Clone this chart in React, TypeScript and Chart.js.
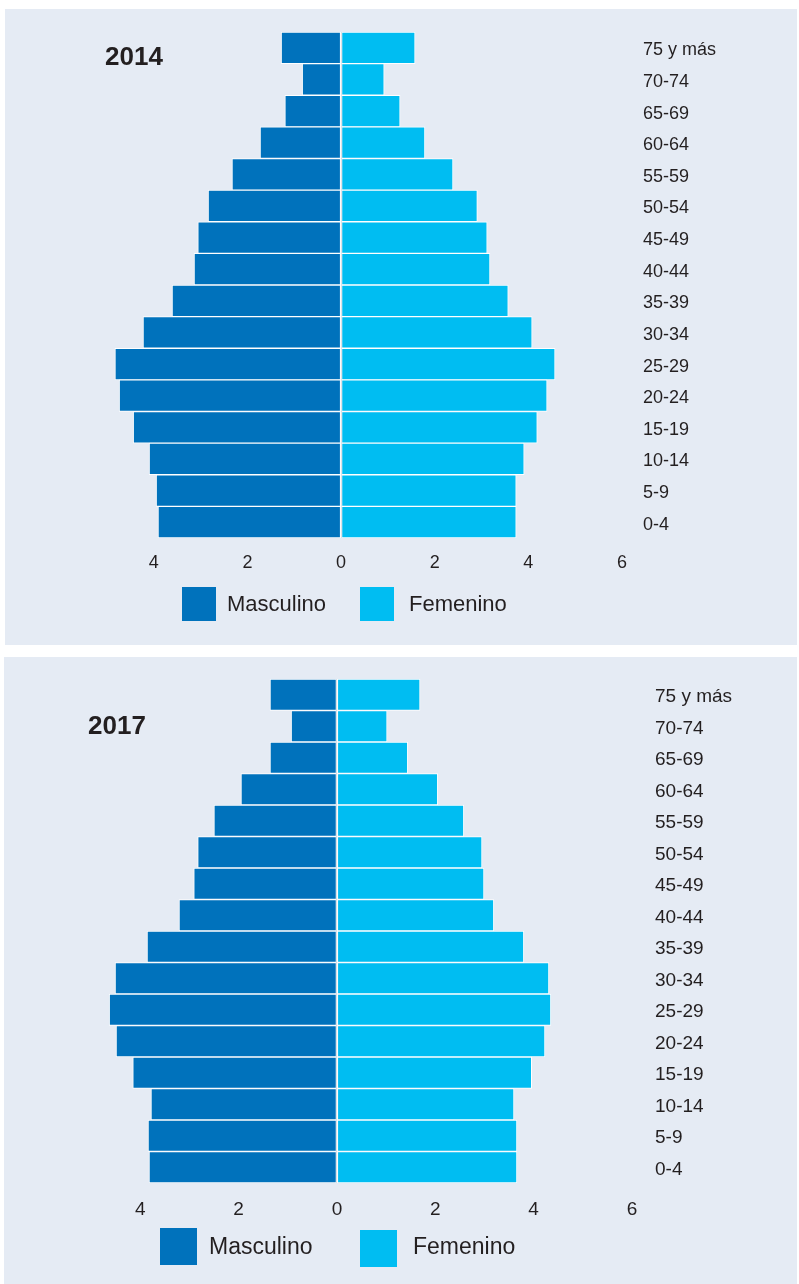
import React, { useEffect, useRef } from "react";
import { Chart, registerables } from "chart.js";

Chart.register(...registerables);

// ---------- data ----------
const ageGroups = [
  "75 y más", "70-74", "65-69", "60-64", "55-59", "50-54", "45-49", "40-44",
  "35-39", "30-34", "25-29", "20-24", "15-19", "10-14", "5-9", "0-4",
];
const xTickValues = [-4, -2, 0, 2, 4, 6];
const seriesLabels = ["Masculino", "Femenino"];
const panelTitles = ["2014", "2017"];

const male2014 = [1.28, 0.83, 1.2, 1.73, 2.33, 2.84, 3.06, 3.14, 3.61, 4.23, 4.83, 4.74, 4.44, 4.1, 3.95, 3.91];
const female2014 = [1.58, 0.92, 1.26, 1.79, 2.39, 2.91, 3.12, 3.18, 3.57, 4.08, 4.57, 4.4, 4.19, 3.91, 3.74, 3.74];
const male2017 = [1.36, 0.93, 1.36, 1.95, 2.5, 2.83, 2.91, 3.21, 3.86, 4.51, 4.63, 4.49, 4.15, 3.78, 3.84, 3.82];
const female2017 = [1.69, 1.02, 1.44, 2.05, 2.58, 2.95, 2.99, 3.19, 3.8, 4.31, 4.35, 4.23, 3.96, 3.6, 3.66, 3.66];

// ---------- style ----------
const MALE_COLOR = "#0072bc";
const FEMALE_COLOR = "#00bdf2";
const PANEL_BG = "#e5ebf4";
const TEXT_COLOR = "#231f20";
const FONT = "'Liberation Sans', Arial, Helvetica, sans-serif";

type LegendBox = { x: number; y: number; size: number; textX: number };
type PanelSpec = {
  left: number; top: number; width: number; height: number;
  chartLeft: number; chartTop: number; chartBottom: number; yAxisWidth: number;
  xAxisHeight: number; tickFont: number; tickPad: number; catFont: number; catPad: number; catOffset: number;
  titleX: number; titleY: number; titleFont: number;
  legendFont: number; legendTextY: number; legendBoxes: LegendBox[];
};

const specs: PanelSpec[] = [
  {
    left: 5, top: 9, width: 792, height: 636,
    chartLeft: 102, chartTop: 23, chartBottom: 529, yAxisWidth: 175,
    xAxisHeight: 40, tickFont: 18, tickPad: 14, catFont: 18, catPad: 21, catOffset: 2.5,
    titleX: 100, titleY: 48.5, titleFont: 26,
    legendFont: 22, legendTextY: 596,
    legendBoxes: [
      { x: 177, y: 578, size: 34, textX: 222 },
      { x: 355, y: 578, size: 34, textX: 404 },
    ],
  },
  {
    left: 4, top: 657, width: 793, height: 627,
    chartLeft: 87, chartTop: 22, chartBottom: 526, yAxisWidth: 165,
    xAxisHeight: 40, tickFont: 19, tickPad: 15, catFont: 19, catPad: 23, catOffset: 2.5,
    titleX: 84, titleY: 69.5, titleFont: 26,
    legendFont: 23, legendTextY: 591,
    legendBoxes: [
      { x: 156, y: 571, size: 37, textX: 205 },
      { x: 356, y: 573, size: 37, textX: 409 },
    ],
  },
];

function Pyramid({ title, male, female, spec }: { title: string; male: number[]; female: number[]; spec: PanelSpec }) {
  const ref = useRef<HTMLCanvasElement | null>(null);

  useEffect(() => {
    const canvas = ref.current;
    if (!canvas) return;

    const overlay = {
      id: "overlay",
      afterDraw(chart: any) {
        const ctx = chart.ctx as CanvasRenderingContext2D;
        ctx.save();
        // title
        ctx.fillStyle = TEXT_COLOR;
        ctx.font = `bold ${spec.titleFont}px ${FONT}`;
        ctx.textAlign = "left";
        ctx.textBaseline = "middle";
        ctx.fillText(title, spec.titleX, spec.titleY);
        // legend
        ctx.font = `${spec.legendFont}px ${FONT}`;
        chart.data.datasets.forEach((ds: any, i: number) => {
          const b = spec.legendBoxes[i];
          if (!b) return;
          ctx.fillStyle = ds.backgroundColor;
          ctx.fillRect(b.x, b.y, b.size, b.size);
          ctx.fillStyle = TEXT_COLOR;
          ctx.fillText(ds.label, b.textX, spec.legendTextY);
        });
        ctx.restore();
      },
    };

    const barStyle = {
      borderColor: "#ffffff",
      borderWidth: 1,
      borderSkipped: false,
      barPercentage: 1,
      categoryPercentage: 1,
    };

    const chart = new Chart(canvas, {
      type: "bar",
      data: {
        labels: ageGroups,
        datasets: [
          { label: seriesLabels[0], data: male.map((v) => -v), backgroundColor: MALE_COLOR, ...barStyle } as any,
          { label: seriesLabels[1], data: female, backgroundColor: FEMALE_COLOR, ...barStyle } as any,
        ],
      },
      options: {
        indexAxis: "y",
        animation: false,
        responsive: false,
        maintainAspectRatio: false,
        events: [],
        layout: {
          padding: {
            left: spec.chartLeft,
            top: spec.chartTop,
            right: 0,
            bottom: spec.height - spec.chartBottom - spec.xAxisHeight,
          },
        },
        plugins: {
          legend: { display: false },
          tooltip: { enabled: false },
          title: { display: false },
        },
        scales: {
          x: {
            type: "linear",
            stacked: true,
            min: -5,
            max: 6,
            z: 1,
            afterBuildTicks: (scale: any) => {
              scale.ticks = xTickValues.map((v) => ({ value: v }));
            },
            afterFit: (scale: any) => {
              scale.height = spec.xAxisHeight;
              scale.paddingLeft = 0;
              scale.paddingRight = 0;
            },
            ticks: {
              autoSkip: false,
              maxRotation: 0,
              padding: spec.tickPad,
              color: TEXT_COLOR,
              font: { family: FONT, size: spec.tickFont },
              callback: (v: any) => String(Math.abs(Number(v))),
            },
            grid: {
              drawTicks: false,
              lineWidth: 1,
              color: (c: any) => (c.tick && c.tick.value === 0 ? "#b5bcc6" : "rgba(0,0,0,0)"),
            },
            border: { display: false },
          },
          y: {
            position: "right",
            stacked: true,
            afterFit: (scale: any) => {
              scale.width = spec.yAxisWidth;
              scale.paddingTop = 0;
              scale.paddingBottom = 0;
            },
            ticks: {
              autoSkip: false,
              crossAlign: "near",
              padding: spec.catPad,
              labelOffset: spec.catOffset,
              color: TEXT_COLOR,
              font: { family: FONT, size: spec.catFont },
            },
            grid: { display: false, drawTicks: false },
            border: { display: false },
          },
        },
      } as any,
      plugins: [overlay],
    });

    return () => chart.destroy();
  }, [title, male, female, spec]);

  return (
    <div
      style={{
        position: "absolute",
        left: spec.left,
        top: spec.top,
        width: spec.width,
        height: spec.height,
        background: PANEL_BG,
      }}
    >
      <canvas
        ref={ref}
        width={spec.width}
        height={spec.height}
        style={{ display: "block", width: spec.width, height: spec.height }}
      />
    </div>
  );
}

export default function App() {
  return (
    <div>
      <Pyramid title={panelTitles[0]} male={male2014} female={female2014} spec={specs[0]} />
      <Pyramid title={panelTitles[1]} male={male2017} female={female2017} spec={specs[1]} />
    </div>
  );
}
